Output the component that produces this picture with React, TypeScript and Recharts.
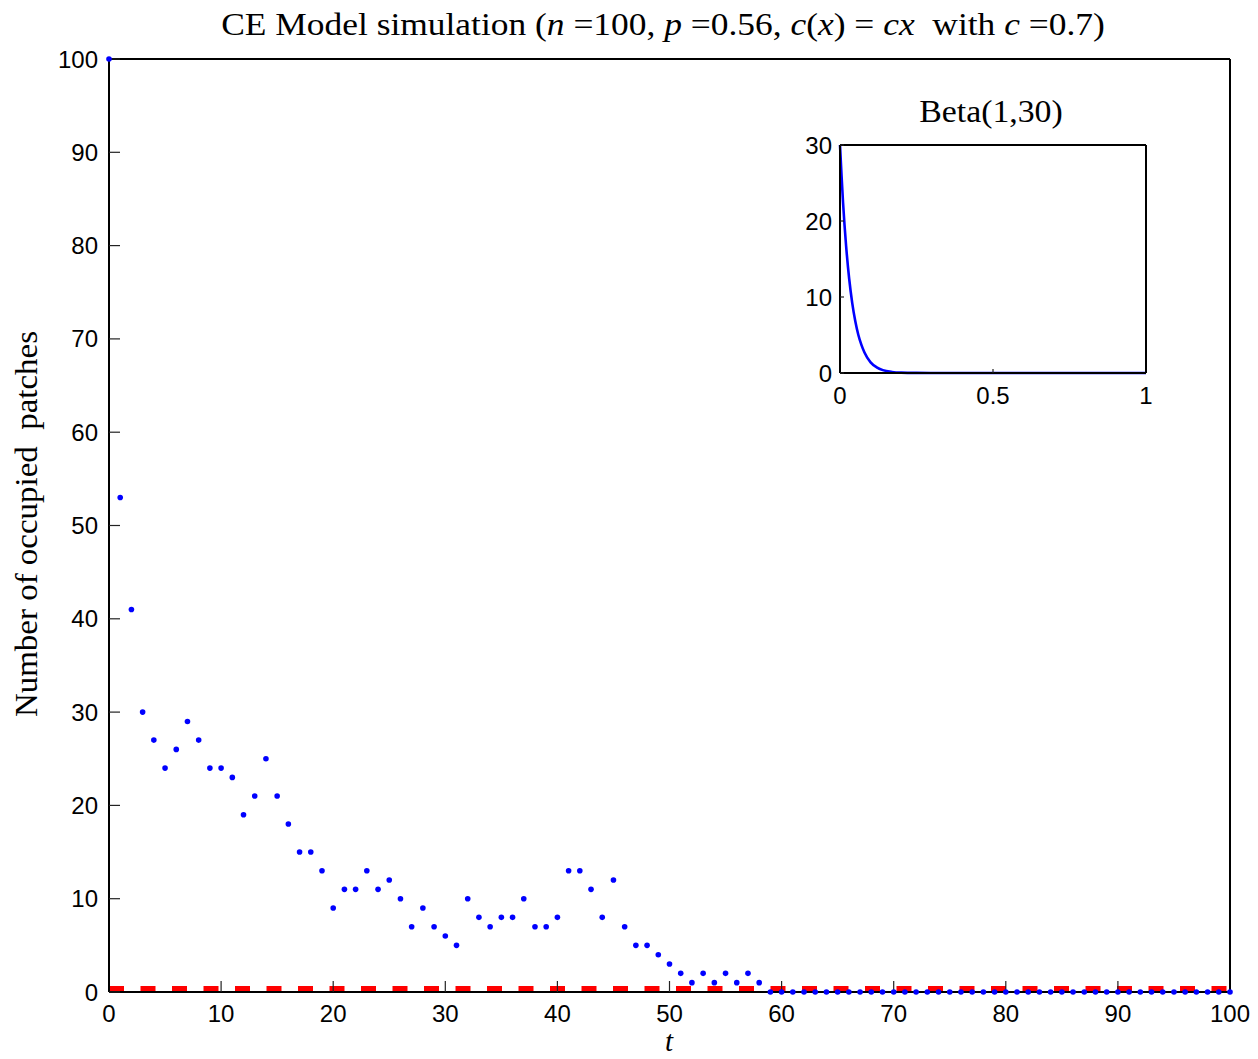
import React from 'react';
import { LineChart, Line, XAxis, YAxis } from 'recharts';

// ---- Main simulation data ----
const timeSteps = [
  0, 1, 2, 3, 4, 5, 6, 7, 8, 9, 10, 11, 12, 13, 14, 15, 16, 17, 18, 19, 20,
  21, 22, 23, 24, 25, 26, 27, 28, 29, 30, 31, 32, 33, 34, 35, 36, 37, 38, 39, 40,
  41, 42, 43, 44, 45, 46, 47, 48, 49, 50, 51, 52, 53, 54, 55, 56, 57, 58, 59, 60,
  61, 62, 63, 64, 65, 66, 67, 68, 69, 70, 71, 72, 73, 74, 75, 76, 77, 78, 79, 80,
  81, 82, 83, 84, 85, 86, 87, 88, 89, 90, 91, 92, 93, 94, 95, 96, 97, 98, 99, 100,
];
const occupiedPatches = [
  100, 53, 41, 30, 27, 24, 26, 29, 27, 24, 24, 23, 19, 21, 25, 21, 18, 15, 15, 13, 9,
  11, 11, 13, 11, 12, 10, 7, 9, 7, 6, 5, 10, 8, 7, 8, 8, 10, 7, 7, 8,
  13, 13, 11, 8, 12, 7, 5, 5, 4, 3, 2, 1, 2, 1, 2, 1, 2, 1, 0, 0,
  0, 0, 0, 0, 0, 0, 0, 0, 0, 0, 0, 0, 0, 0, 0, 0, 0, 0, 0, 0,
  0, 0, 0, 0, 0, 0, 0, 0, 0, 0, 0, 0, 0, 0, 0, 0, 0, 0, 0, 0,
];
const equilibriumTimes = [0, 100];
const equilibriumLevel = [0, 0];
const xTicks = [0, 10, 20, 30, 40, 50, 60, 70, 80, 90, 100];
const yTicks = [0, 10, 20, 30, 40, 50, 60, 70, 80, 90, 100];

// ---- Inset: Beta(1,30) density ----
const betaX = [0, 0.005, 0.01, 0.02, 0.03, 0.04, 0.05, 0.06, 0.07, 0.08, 0.1, 0.12, 0.14, 0.17, 0.2, 0.25, 0.3, 0.5, 0.75, 1];
const betaDensity = [30, 26.0, 22.4, 16.7, 12.4, 9.2, 6.8, 5.0, 3.7, 2.7, 1.4, 0.74, 0.38, 0.14, 0.05, 0.01, 0, 0, 0, 0];
const insetXTicks = [0, 0.5, 1];
const insetYTicks = [0, 10, 20, 30];

const mainData = timeSteps.map((t, i) => ({ t, n: occupiedPatches[i] }));
const eqData = equilibriumTimes.map((t, i) => ({ t, e: equilibriumLevel[i] }));
const betaData = betaX.map((x, i) => ({ x, d: betaDensity[i] }));

const sans = 'Liberation Sans, Arial, Helvetica, sans-serif';
const serif = 'Liberation Serif, Times New Roman, serif';
const mainTick = { fontFamily: sans, fontSize: 24, fill: '#000' };
const insetTick = { fontFamily: sans, fontSize: 24, fill: '#000' };
const axisLine = { stroke: '#000', strokeWidth: 2 };
const tickLine = { stroke: '#222', strokeWidth: 1.2 };

export default function App() {
  return (
    <div style={{ position: 'relative', width: 1242, height: 1043 }}>
      <div style={{ position: 'absolute', left: 0, top: 0 }}>
        <LineChart width={1242} height={1043} margin={{ top: 50, right: 19, bottom: 29, left: 41 }}>
          <XAxis xAxisId="b" type="number" dataKey="t" domain={[0, 100]} ticks={xTicks} interval={0}
            tickSize={-11} tickMargin={24} height={30} axisLine={axisLine} tickLine={tickLine} tick={mainTick} />
          <XAxis xAxisId="top" orientation="top" type="number" dataKey="t" domain={[0, 100]} ticks={xTicks} interval={0}
            tickSize={-11} height={1} axisLine={axisLine} tickLine={tickLine} tick={false} />
          <YAxis yAxisId="l" type="number" domain={[0, 100]} ticks={yTicks} interval={0} allowDataOverflow
            tickSize={-11} tickMargin={22} width={60} axisLine={axisLine} tickLine={tickLine} tick={mainTick} />
          <YAxis yAxisId="r" orientation="right" type="number" domain={[0, 100]} ticks={yTicks} interval={0}
            tickSize={-11} width={1} axisLine={axisLine} tickLine={tickLine} tick={false} />
          <Line xAxisId="b" yAxisId="l" data={eqData} dataKey="e" type="linear" stroke="#ff0000" strokeWidth={12}
            strokeDasharray="15 16.5" dot={false} activeDot={false} isAnimationActive={false} />
          <Line xAxisId="b" yAxisId="r" data={mainData} dataKey="n" type="linear" stroke="none"
            dot={{ r: 2.8, fill: '#0000ff', stroke: 'none', strokeWidth: 0 }} activeDot={false} isAnimationActive={false} />
        </LineChart>
      </div>

      <div style={{ position: 'absolute', left: 770, top: 85 }}>
        <LineChart width={400} height={330} margin={{ top: 51, right: 31, bottom: 20, left: 12 }}>
          <XAxis xAxisId="b" type="number" dataKey="x" domain={[0, 1]} ticks={insetXTicks} interval={0}
            tickSize={-4} tickMargin={18} height={30} axisLine={axisLine} tickLine={tickLine} tick={insetTick} />
          <XAxis xAxisId="top" orientation="top" type="number" dataKey="x" domain={[0, 1]} ticks={insetXTicks} interval={0}
            tickSize={-4} height={1} axisLine={axisLine} tickLine={tickLine} tick={false} />
          <YAxis yAxisId="l" type="number" domain={[0, 30]} ticks={insetYTicks} interval={0}
            tickSize={-4} tickMargin={12} width={50} axisLine={axisLine} tickLine={tickLine} tick={insetTick} />
          <YAxis yAxisId="r" orientation="right" type="number" domain={[0, 30]} ticks={insetYTicks} interval={0}
            tickSize={-4} width={1} axisLine={axisLine} tickLine={tickLine} tick={false} />
          <Line xAxisId="b" yAxisId="l" data={betaData} dataKey="d" type="monotone" stroke="#0000ff" strokeWidth={2.6}
            dot={false} activeDot={false} isAnimationActive={false} />
        </LineChart>
      </div>

      <svg width={1242} height={1043} style={{ position: 'absolute', left: 0, top: 0, pointerEvents: 'none', overflow: 'visible' }}>
        <text transform="translate(655,27) scale(1.107,1)" x={0} y={0} textAnchor="middle" fontFamily={serif} fontSize={32}
          fill="#000" style={{ whiteSpace: 'pre' }}>
          <tspan>CE Model simulation (</tspan>
          <tspan fontStyle="italic">n</tspan>
          <tspan> =100, </tspan>
          <tspan fontStyle="italic">p</tspan>
          <tspan> =0.56, </tspan>
          <tspan fontStyle="italic">c</tspan>
          <tspan>(</tspan>
          <tspan fontStyle="italic">x</tspan>
          <tspan>) = </tspan>
          <tspan fontStyle="italic">cx</tspan>
          <tspan>  with </tspan>
          <tspan fontStyle="italic">c</tspan>
          <tspan> =0.7)</tspan>
        </text>
        <text transform="translate(983,114) scale(1.056,1)" x={0} y={0} textAnchor="middle" fontFamily={serif}
          fontSize={32} fill="#000">Beta(1,30)</text>
        <text transform="translate(29,516) rotate(-90) scale(1.03,1)" x={0} y={0} textAnchor="middle" fontFamily={serif}
          fontSize={32} fill="#000" style={{ whiteSpace: 'pre' }}>Number of occupied  patches</text>
        <text x={661} y={1043} textAnchor="middle" fontFamily={serif} fontSize={29} fontStyle="italic" fill="#000">t</text>
      </svg>
    </div>
  );
}
